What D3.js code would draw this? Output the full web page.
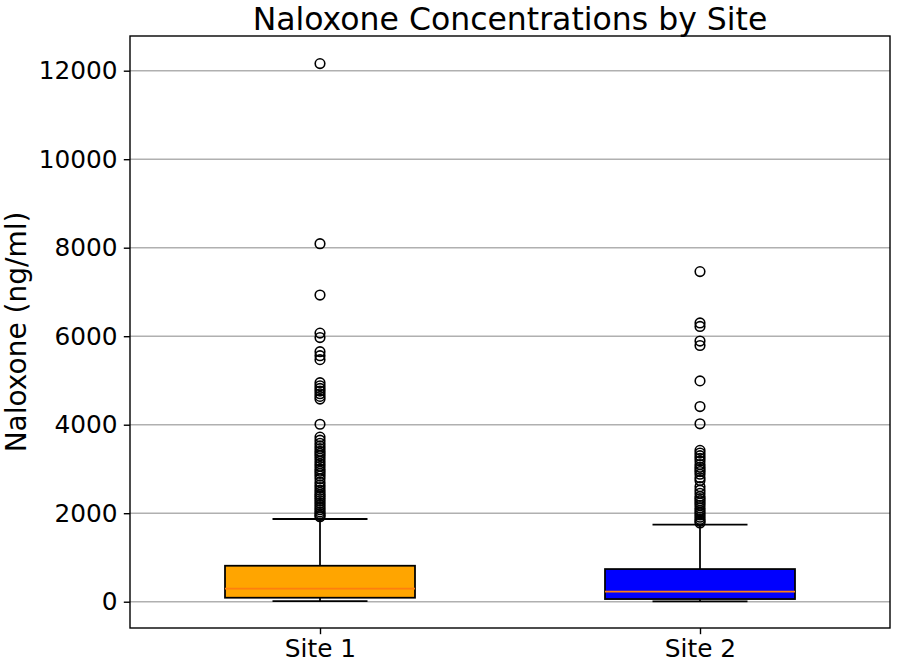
<!DOCTYPE html>
<html>
<head>
<meta charset="utf-8">
<script src="https://cdn.jsdelivr.net/npm/d3@7"></script>
<style>
  html, body { margin: 0; padding: 0; background: #fff; }
  text { font-family: "DejaVu Sans", sans-serif; fill: #000; }
</style>
</head>
<body>
<svg id="chart" width="898" height="662"></svg>
<script>
// ---- data ----
const categories = ["Site 1", "Site 2"];
const boxColors = ["#FFA500", "#0000FF"];
const whiskerLow = [15, 10];
const q1 = [90, 60];
const medians = [294, 226];
const q3 = [813, 738];
const whiskerHigh = [1869, 1740];
const site1Outliers = [12160, 8090, 6930, 6070, 5970, 5650, 5560, 5470, 4950, 4880, 4820, 4760, 4700, 4640, 4580,
  4010, 3720, 3650, 3580, 3520, 3460, 3400, 3350, 3300, 3240, 3180, 3120, 3060, 3000, 2950, 2900, 2840, 2780,
  2700, 2640, 2580, 2520, 2470, 2420, 2380, 2330, 2280, 2230, 2180, 2130, 2080, 2030, 1990, 1950, 1920];
const site2Outliers = [7460, 6300, 6220, 5890, 5790, 4990, 4410, 4020, 3420, 3360, 3300, 3240, 3180, 3100,
  3040, 2990, 2940, 2880, 2800, 2740, 2600, 2520, 2450, 2380, 2330, 2280, 2230, 2180, 2120, 2060, 2010,
  1960, 1910, 1860, 1820, 1780];
const outliers = [site1Outliers, site2Outliers];
const yTicks = [0, 2000, 4000, 6000, 8000, 10000, 12000];
const title = "Naloxone Concentrations by Site";
const yLabel = "Naloxone (ng/ml)";

// ---- layout ----
const L = 130, R = 890, T = 36, B = 628;
const svg = d3.select("#chart");
const x = d3.scaleLinear().domain([0.5, 2.5]).range([L, R]);
const y = d3.scaleLinear().domain([-594, 12784]).range([B, T]);

// grid
svg.append("g").selectAll("line").data(yTicks).join("line")
  .attr("x1", L).attr("x2", R)
  .attr("y1", d => y(d)).attr("y2", d => y(d))
  .attr("stroke", "#b0b0b0").attr("stroke-width", 1.4);

// boxes
const boxW = 0.5;
categories.forEach((c, i) => {
  const pos = i + 1;
  const g = svg.append("g");
  const cx = x(pos);
  const capHalf = (x(pos + boxW / 4) - x(pos));
  g.append("line").attr("x1", cx).attr("x2", cx).attr("y1", y(q3[i])).attr("y2", y(whiskerHigh[i]))
    .attr("stroke", "#000").attr("stroke-width", 1.77);
  g.append("line").attr("x1", cx).attr("x2", cx).attr("y1", y(q1[i])).attr("y2", y(whiskerLow[i]))
    .attr("stroke", "#000").attr("stroke-width", 1.77);
  [whiskerHigh[i], whiskerLow[i]].forEach(v => {
    g.append("line").attr("x1", cx - capHalf).attr("x2", cx + capHalf).attr("y1", y(v)).attr("y2", y(v))
      .attr("stroke", "#000").attr("stroke-width", 1.77);
  });
  g.append("rect")
    .attr("x", x(pos - boxW / 2)).attr("width", x(pos + boxW / 2) - x(pos - boxW / 2))
    .attr("y", y(q3[i])).attr("height", y(q1[i]) - y(q3[i]))
    .attr("fill", boxColors[i]).attr("stroke", "#000").attr("stroke-width", 1.77);
  g.append("line").attr("x1", x(pos - boxW / 2)).attr("x2", x(pos + boxW / 2))
    .attr("y1", y(medians[i])).attr("y2", y(medians[i]))
    .attr("stroke", "#ff7f0e").attr("stroke-width", 1.77);
  g.selectAll("circle").data(outliers[i]).join("circle")
    .attr("cx", cx).attr("cy", d => y(d)).attr("r", 4.8)
    .attr("fill", "none").attr("stroke", "#000").attr("stroke-width", 1.6);
});

// frame
svg.append("rect").attr("x", L).attr("y", T).attr("width", R - L).attr("height", B - T)
  .attr("fill", "none").attr("stroke", "#000").attr("stroke-width", 1.4);

// y axis
const yAxis = d3.axisLeft(y).tickValues(yTicks).tickSize(6.2).tickPadding(6.2).tickFormat(d3.format("d"));
const ya = svg.append("g").attr("transform", `translate(${L},0)`).call(yAxis);
ya.select(".domain").remove();
ya.selectAll(".tick line").attr("stroke", "#000").attr("stroke-width", 1.4);
ya.selectAll(".tick text").attr("font-size", 24.8).attr("font-family", "DejaVu Sans").attr("fill", "#000");

// x axis
const xAxis = d3.axisBottom(x).tickValues([1, 2]).tickSize(6.2).tickPadding(5).tickFormat((d) => categories[d - 1]);
const xa = svg.append("g").attr("transform", `translate(0,${B})`).call(xAxis);
xa.select(".domain").remove();
xa.selectAll(".tick line").attr("stroke", "#000").attr("stroke-width", 1.4);
xa.selectAll(".tick text").attr("font-size", 24.8).attr("font-family", "DejaVu Sans").attr("fill", "#000");

// title
svg.append("text").attr("x", (L + R) / 2).attr("y", 29.5).attr("text-anchor", "middle")
  .attr("font-size", 31.5).text(title);

// y label
svg.append("text").attr("transform", `translate(25.5,${(T + B) / 2}) rotate(-90)`)
  .attr("text-anchor", "middle").attr("font-size", 28).text(yLabel);
</script>
</body>
</html>
